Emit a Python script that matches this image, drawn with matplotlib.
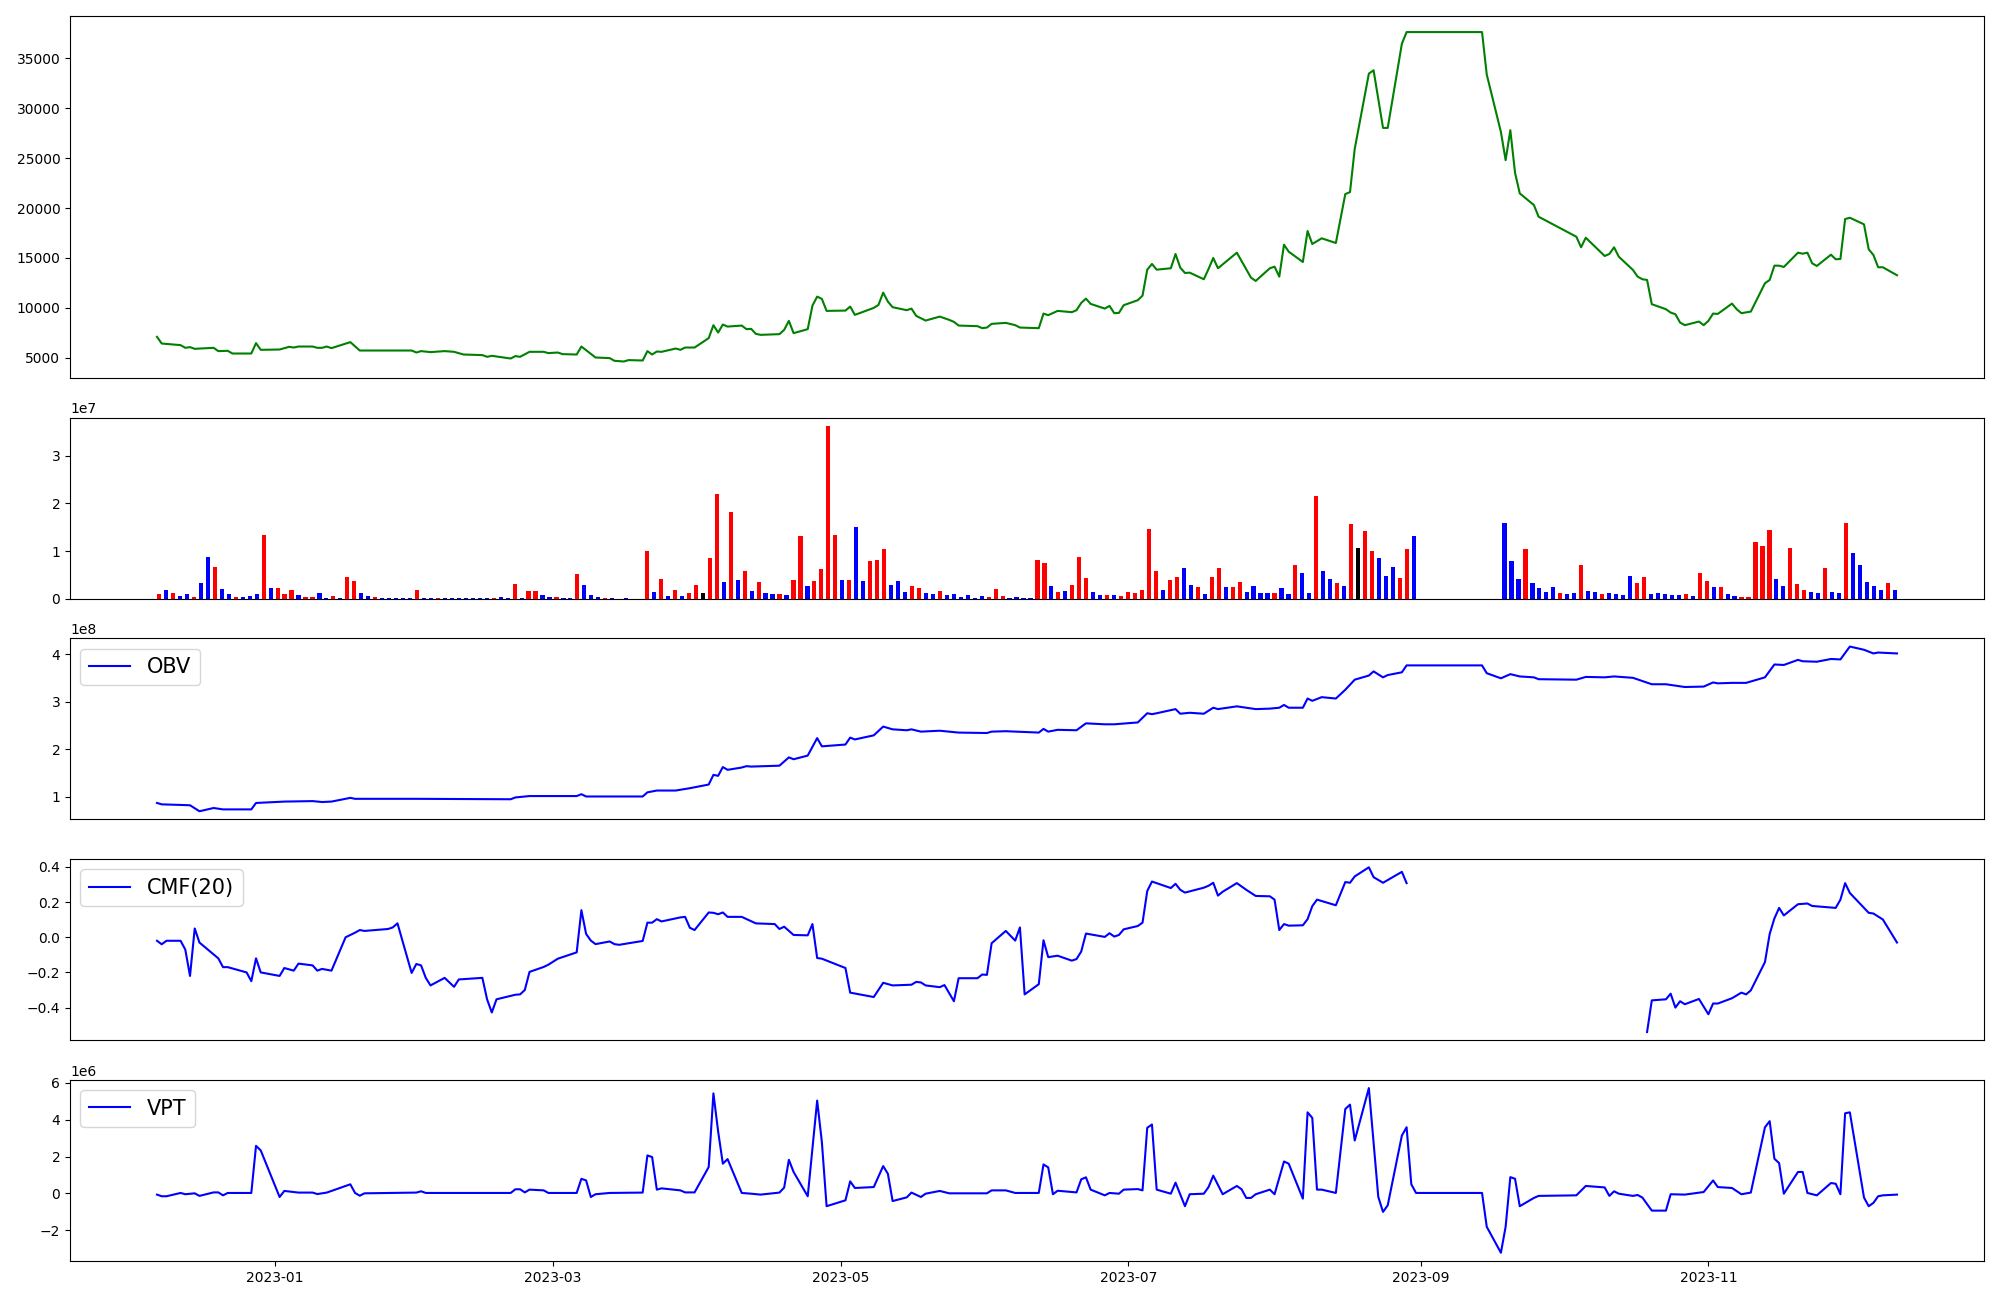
"""
Five-panel stock chart: close price, volume bars, OBV, CMF(20) and VPT.
Values were read off the reference picture.
"""

import numpy as np
import pandas as pd
import matplotlib
matplotlib.use("Agg")
import matplotlib.pyplot as plt

OUTPUT_PATH = "out.png"

# ======== Data ========

# Close price vertices (date, price)
PRICE = [
    ("2022-12-07", 7100), ("2022-12-08", 6430), ("2022-12-12", 6270), ("2022-12-13", 6000),
    ("2022-12-14", 6070), ("2022-12-15", 5900), ("2022-12-19", 6000), ("2022-12-20", 5670),
    ("2022-12-22", 5700), ("2022-12-23", 5430), ("2022-12-27", 5430), ("2022-12-28", 6470),
    ("2022-12-29", 5800), ("2023-01-02", 5830), ("2023-01-04", 6100), ("2023-01-05", 6030),
    ("2023-01-06", 6130), ("2023-01-09", 6130), ("2023-01-10", 6000), ("2023-01-11", 6000),
    ("2023-01-12", 6130), ("2023-01-13", 5970), ("2023-01-17", 6570), ("2023-01-19", 5730),
    ("2023-01-30", 5730), ("2023-01-31", 5530), ("2023-02-01", 5670), ("2023-02-03", 5570),
    ("2023-02-06", 5670), ("2023-02-08", 5600), ("2023-02-10", 5330), ("2023-02-14", 5270),
    ("2023-02-15", 5100), ("2023-02-16", 5200), ("2023-02-17", 5130), ("2023-02-20", 4930),
    ("2023-02-21", 5170), ("2023-02-22", 5100), ("2023-02-24", 5600), ("2023-02-27", 5600),
    ("2023-02-28", 5470), ("2023-03-02", 5530), ("2023-03-03", 5370), ("2023-03-06", 5330),
    ("2023-03-07", 6130), ("2023-03-10", 5030), ("2023-03-13", 4970), ("2023-03-14", 4700),
    ("2023-03-16", 4630), ("2023-03-17", 4770), ("2023-03-20", 4730), ("2023-03-21", 5670),
    ("2023-03-22", 5330), ("2023-03-23", 5630), ("2023-03-24", 5600), ("2023-03-27", 5930),
    ("2023-03-28", 5800), ("2023-03-29", 6030), ("2023-03-31", 6030), ("2023-04-03", 6970),
    ("2023-04-04", 8270), ("2023-04-05", 7530), ("2023-04-06", 8330), ("2023-04-07", 8130),
    ("2023-04-10", 8230), ("2023-04-11", 7870), ("2023-04-12", 7900), ("2023-04-13", 7400),
    ("2023-04-14", 7300), ("2023-04-18", 7370), ("2023-04-19", 7800), ("2023-04-20", 8700),
    ("2023-04-21", 7470), ("2023-04-24", 7870), ("2023-04-25", 10230), ("2023-04-26", 11130),
    ("2023-04-27", 10900), ("2023-04-28", 9700), ("2023-05-02", 9730), ("2023-05-03", 10130),
    ("2023-05-04", 9300), ("2023-05-08", 10000), ("2023-05-09", 10300), ("2023-05-10", 11530),
    ("2023-05-11", 10630), ("2023-05-12", 10070), ("2023-05-15", 9770), ("2023-05-16", 9930),
    ("2023-05-17", 9200), ("2023-05-19", 8730), ("2023-05-22", 9130), ("2023-05-24", 8800),
    ("2023-05-25", 8600), ("2023-05-26", 8230), ("2023-05-30", 8170), ("2023-05-31", 7970),
    ("2023-06-01", 8030), ("2023-06-02", 8400), ("2023-06-05", 8500), ("2023-06-07", 8270),
    ("2023-06-08", 8030), ("2023-06-12", 7970), ("2023-06-13", 9430), ("2023-06-14", 9270),
    ("2023-06-16", 9700), ("2023-06-19", 9570), ("2023-06-20", 9770), ("2023-06-21", 10500),
    ("2023-06-22", 10930), ("2023-06-23", 10400), ("2023-06-26", 9930), ("2023-06-27", 10200),
    ("2023-06-28", 9470), ("2023-06-29", 9500), ("2023-06-30", 10270), ("2023-07-03", 10770),
    ("2023-07-04", 11230), ("2023-07-05", 13830), ("2023-07-06", 14400), ("2023-07-07", 13830),
    ("2023-07-10", 13970), ("2023-07-11", 15400), ("2023-07-12", 14030), ("2023-07-13", 13500),
    ("2023-07-14", 13530), ("2023-07-17", 12870), ("2023-07-18", 13900), ("2023-07-19", 15000),
    ("2023-07-20", 13970), ("2023-07-24", 15530), ("2023-07-27", 13030), ("2023-07-28", 12700),
    ("2023-07-31", 13970), ("2023-08-01", 14130), ("2023-08-02", 13130), ("2023-08-03", 16330),
    ("2023-08-04", 15630), ("2023-08-07", 14600), ("2023-08-08", 17700), ("2023-08-09", 16400),
    ("2023-08-11", 16970), ("2023-08-14", 16500), ("2023-08-16", 21400), ("2023-08-17", 21600),
    ("2023-08-18", 25930), ("2023-08-21", 33470), ("2023-08-22", 33800), ("2023-08-24", 28030),
    ("2023-08-25", 28030), ("2023-08-28", 36470), ("2023-08-29", 37630), ("2023-09-14", 37630),
    ("2023-09-15", 33370), ("2023-09-18", 27630), ("2023-09-19", 24800), ("2023-09-20", 27800),
    ("2023-09-21", 23530), ("2023-09-22", 21470), ("2023-09-25", 20300), ("2023-09-26", 19130),
    ("2023-10-04", 17130), ("2023-10-05", 16070), ("2023-10-06", 17030), ("2023-10-10", 15200),
    ("2023-10-11", 15400), ("2023-10-12", 16070), ("2023-10-13", 15130), ("2023-10-16", 13800),
    ("2023-10-17", 13130), ("2023-10-18", 12870), ("2023-10-19", 12800), ("2023-10-20", 10370),
    ("2023-10-23", 9870), ("2023-10-24", 9530), ("2023-10-25", 9370), ("2023-10-26", 8530),
    ("2023-10-27", 8270), ("2023-10-30", 8630), ("2023-10-31", 8270), ("2023-11-01", 8700),
    ("2023-11-02", 9430), ("2023-11-03", 9400), ("2023-11-06", 10430), ("2023-11-07", 9870),
    ("2023-11-08", 9470), ("2023-11-10", 9630), ("2023-11-13", 12470), ("2023-11-14", 12800),
    ("2023-11-15", 14230), ("2023-11-16", 14230), ("2023-11-17", 14100), ("2023-11-20", 15530),
    ("2023-11-21", 15430), ("2023-11-22", 15530), ("2023-11-23", 14470), ("2023-11-24", 14200),
    ("2023-11-27", 15330), ("2023-11-28", 14870), ("2023-11-29", 14900), ("2023-11-30", 18900),
    ("2023-12-01", 19030), ("2023-12-04", 18370), ("2023-12-05", 15870), ("2023-12-06", 15300),
    ("2023-12-07", 14070), ("2023-12-08", 14070), ("2023-12-11", 13270),
]

# Daily volume in millions of shares, one value per trading day (250 days)
VOLUME_M = [
    1.0, 1.9, 1.3, 0.6, 1.0, 0.4, 3.3, 8.8, 6.7, 2.1,
    1.0, 0.4, 0.4, 0.6, 1.0, 13.4, 2.3, 2.3, 1.0, 1.9,
    0.8, 0.4, 0.4, 1.3, 0.2, 0.6, 0.2, 4.6, 3.8, 1.3,
    0.6, 0.4, 0.2, 0.2, 0.2, 0.2, 0.2, 1.9, 0.2, 0.2,
    0.2, 0.2, 0.2, 0.2, 0.2, 0.2, 0.2, 0.2, 0.2, 0.4,
    0.2, 3.1, 0.2, 1.7, 1.7, 0.8, 0.4, 0.4, 0.2, 0.2,
    5.2, 2.9, 0.8, 0.4, 0.2, 0.2, 0.0, 0.2, 0.0, 0.0,
    10.0, 1.5, 4.2, 0.6, 1.9, 0.6, 1.3, 2.9, 1.3, 8.6,
    22.0, 3.6, 18.2, 4.0, 5.9, 1.7, 3.6, 1.3, 1.0, 1.0,
    0.8, 4.0, 13.2, 2.7, 3.8, 6.3, 36.2, 13.4, 4.0, 4.0,
    15.1, 3.8, 7.9, 8.2, 10.5, 2.9, 3.8, 1.5, 2.7, 2.3,
    1.3, 1.0, 1.7, 0.8, 1.0, 0.4, 0.8, 0.2, 0.6, 0.4,
    2.1, 0.6, 0.2, 0.4, 0.2, 0.2, 8.2, 7.5, 2.7, 1.5,
    1.7, 2.9, 8.8, 4.4, 1.5, 0.8, 0.8, 0.8, 0.6, 1.5,
    1.3, 1.9, 14.6, 5.9, 1.9, 4.0, 4.6, 6.5, 2.9, 2.5,
    1.0, 4.6, 6.5, 2.5, 2.5, 3.6, 1.5, 2.7, 1.3, 1.3,
    1.3, 2.3, 1.0, 7.1, 5.4, 1.3, 21.5, 5.9, 4.2, 3.3,
    2.7, 15.7, 10.7, 14.2, 10.0, 8.6, 4.8, 6.7, 4.4, 10.5,
    13.2, 0.0, 0.0, 0.0, 0.0, 0.0, 0.0, 0.0, 0.0, 0.0,
    0.0, 0.0, 0.0, 15.9, 7.9, 4.2, 10.5, 3.3, 2.3, 1.5,
    2.5, 1.3, 1.0, 1.3, 7.1, 1.7, 1.5, 1.0, 1.3, 1.0,
    0.8, 4.8, 3.3, 4.6, 1.0, 1.3, 1.0, 0.8, 0.8, 1.0,
    0.6, 5.4, 3.8, 2.5, 2.5, 1.0, 0.6, 0.4, 0.4, 11.9,
    11.1, 14.4, 4.2, 2.7, 10.7, 3.1, 1.9, 1.5, 1.3, 6.5,
    1.5, 1.3, 15.9, 9.6, 7.1, 3.6, 2.7, 1.9, 3.3, 1.9,
]

# Candle direction per trading day: U = close above open, D = below, F = unchanged
DIRECTION = (
    "UDUDDUDDUD" "DUDDDUDUUU" "DUUDDUDUUD" "DUDDDDDUDD" "UDDDDDDDUD"
    "DUDUUDDUDD" "UDDDUDDDDD" "UDUDUDUUFU" "UDUDUDUDDU" "DUUDUUUUDU"
    "DDUUUDDDUU" "DDUDDDDDDU" "UUDDDDUUDU" "DUUUDDUDUU" "UUUUDUUDDU"
    "DUUDUUDDDD" "UDDUDDUDDU" "DUFUUDDDUU" "DDDDDDDDDD" "DDDDDDUDDD"
    "DUDDUDDUDD" "DDUUDDDDDU" "DUUDUDDUUU" "UUDDUUUDDU" "DDUDDDDDUD"
)

# On-balance volume vertices (date, x1e8)
OBV_E8 = [
    ("2022-12-07", 0.874), ("2022-12-08", 0.845), ("2022-12-14", 0.826), ("2022-12-16", 0.70),
    ("2022-12-19", 0.768), ("2022-12-21", 0.739), ("2022-12-27", 0.739), ("2022-12-28", 0.874),
    ("2023-01-03", 0.903), ("2023-01-09", 0.913), ("2023-01-11", 0.894), ("2023-01-13", 0.903),
    ("2023-01-17", 0.981), ("2023-01-18", 0.961), ("2023-01-31", 0.961), ("2023-02-20", 0.952),
    ("2023-02-21", 0.99), ("2023-02-24", 1.019), ("2023-03-06", 1.019), ("2023-03-07", 1.058),
    ("2023-03-08", 1.01), ("2023-03-20", 1.01), ("2023-03-21", 1.097), ("2023-03-23", 1.135),
    ("2023-03-27", 1.135), ("2023-03-30", 1.184), ("2023-04-03", 1.261), ("2023-04-04", 1.464),
    ("2023-04-05", 1.444), ("2023-04-06", 1.628), ("2023-04-07", 1.57), ("2023-04-10", 1.618),
    ("2023-04-11", 1.647), ("2023-04-12", 1.638), ("2023-04-18", 1.657), ("2023-04-20", 1.831),
    ("2023-04-21", 1.792), ("2023-04-24", 1.869), ("2023-04-26", 2.236), ("2023-04-27", 2.063),
    ("2023-05-02", 2.101), ("2023-05-03", 2.246), ("2023-05-04", 2.208), ("2023-05-08", 2.294),
    ("2023-05-10", 2.478), ("2023-05-12", 2.42), ("2023-05-15", 2.401), ("2023-05-16", 2.42),
    ("2023-05-18", 2.372), ("2023-05-22", 2.391), ("2023-05-26", 2.352), ("2023-06-01", 2.343),
    ("2023-06-02", 2.372), ("2023-06-05", 2.381), ("2023-06-12", 2.352), ("2023-06-13", 2.43),
    ("2023-06-14", 2.372), ("2023-06-16", 2.41), ("2023-06-20", 2.401), ("2023-06-22", 2.546),
    ("2023-06-26", 2.526), ("2023-06-28", 2.526), ("2023-07-03", 2.565), ("2023-07-05", 2.758),
    ("2023-07-06", 2.739), ("2023-07-07", 2.758), ("2023-07-11", 2.845), ("2023-07-12", 2.748),
    ("2023-07-14", 2.768), ("2023-07-17", 2.748), ("2023-07-19", 2.874), ("2023-07-20", 2.845),
    ("2023-07-24", 2.903), ("2023-07-28", 2.845), ("2023-07-31", 2.855), ("2023-08-02", 2.874),
    ("2023-08-03", 2.932), ("2023-08-04", 2.874), ("2023-08-07", 2.874), ("2023-08-08", 3.067),
    ("2023-08-09", 3.019), ("2023-08-11", 3.096), ("2023-08-14", 3.067), ("2023-08-16", 3.251),
    ("2023-08-18", 3.463), ("2023-08-21", 3.55), ("2023-08-22", 3.637), ("2023-08-24", 3.512),
    ("2023-08-25", 3.56), ("2023-08-28", 3.618), ("2023-08-29", 3.763), ("2023-09-14", 3.763),
    ("2023-09-15", 3.599), ("2023-09-18", 3.492), ("2023-09-20", 3.579), ("2023-09-22", 3.531),
    ("2023-09-25", 3.512), ("2023-09-26", 3.473), ("2023-10-04", 3.463), ("2023-10-06", 3.521),
    ("2023-10-10", 3.512), ("2023-10-12", 3.531), ("2023-10-16", 3.502), ("2023-10-20", 3.367),
    ("2023-10-23", 3.367), ("2023-10-27", 3.309), ("2023-10-31", 3.318), ("2023-11-02", 3.405),
    ("2023-11-03", 3.386), ("2023-11-06", 3.396), ("2023-11-09", 3.396), ("2023-11-13", 3.512),
    ("2023-11-15", 3.782), ("2023-11-17", 3.772), ("2023-11-20", 3.879), ("2023-11-21", 3.85),
    ("2023-11-24", 3.84), ("2023-11-27", 3.898), ("2023-11-29", 3.888), ("2023-12-01", 4.159),
    ("2023-12-04", 4.091), ("2023-12-06", 4.014), ("2023-12-07", 4.033), ("2023-12-11", 4.014),
]

# Chaikin money flow (20) vertices; None = undefined during the trading halt window
CMF_20 = [
    ("2022-12-07", -0.02), ("2022-12-08", -0.04), ("2022-12-09", -0.02), ("2022-12-12", -0.02),
    ("2022-12-13", -0.07), ("2022-12-14", -0.22), ("2022-12-15", 0.05), ("2022-12-16", -0.03),
    ("2022-12-20", -0.12), ("2022-12-21", -0.17), ("2022-12-22", -0.17), ("2022-12-26", -0.20),
    ("2022-12-27", -0.25), ("2022-12-28", -0.12), ("2022-12-29", -0.20), ("2023-01-02", -0.22),
    ("2023-01-03", -0.175), ("2023-01-05", -0.19), ("2023-01-06", -0.15), ("2023-01-09", -0.16),
    ("2023-01-10", -0.19), ("2023-01-11", -0.18), ("2023-01-13", -0.19), ("2023-01-16", 0.0),
    ("2023-01-18", 0.026), ("2023-01-19", 0.041), ("2023-01-20", 0.036), ("2023-01-25", 0.047),
    ("2023-01-26", 0.056), ("2023-01-27", 0.079), ("2023-01-30", -0.203), ("2023-01-31", -0.152),
    ("2023-02-01", -0.16), ("2023-02-02", -0.231), ("2023-02-03", -0.274), ("2023-02-06", -0.231),
    ("2023-02-08", -0.282), ("2023-02-09", -0.24), ("2023-02-14", -0.231), ("2023-02-15", -0.353),
    ("2023-02-16", -0.428), ("2023-02-17", -0.353), ("2023-02-21", -0.327), ("2023-02-22", -0.325),
    ("2023-02-23", -0.30), ("2023-02-24", -0.197), ("2023-02-27", -0.169), ("2023-02-28", -0.156),
    ("2023-03-02", -0.122), ("2023-03-06", -0.086), ("2023-03-07", 0.154), ("2023-03-08", 0.019),
    ("2023-03-09", -0.019), ("2023-03-10", -0.039), ("2023-03-13", -0.024), ("2023-03-14", -0.039),
    ("2023-03-15", -0.043), ("2023-03-17", -0.034), ("2023-03-20", -0.021), ("2023-03-21", 0.083),
    ("2023-03-22", 0.083), ("2023-03-23", 0.103), ("2023-03-24", 0.09), ("2023-03-28", 0.113),
    ("2023-03-29", 0.116), ("2023-03-30", 0.054), ("2023-03-31", 0.041), ("2023-04-03", 0.141),
    ("2023-04-04", 0.139), ("2023-04-05", 0.131), ("2023-04-06", 0.141), ("2023-04-07", 0.116),
    ("2023-04-10", 0.116), ("2023-04-13", 0.079), ("2023-04-17", 0.075), ("2023-04-18", 0.047),
    ("2023-04-19", 0.06), ("2023-04-21", 0.013), ("2023-04-24", 0.011), ("2023-04-25", 0.075),
    ("2023-04-26", -0.118), ("2023-04-27", -0.122), ("2023-05-02", -0.175), ("2023-05-03", -0.315),
    ("2023-05-08", -0.34), ("2023-05-10", -0.259), ("2023-05-12", -0.274), ("2023-05-16", -0.27),
    ("2023-05-17", -0.254), ("2023-05-18", -0.257), ("2023-05-19", -0.274), ("2023-05-22", -0.284),
    ("2023-05-23", -0.272), ("2023-05-25", -0.364), ("2023-05-26", -0.233), ("2023-05-30", -0.233),
    ("2023-05-31", -0.212), ("2023-06-01", -0.214), ("2023-06-02", -0.034), ("2023-06-05", 0.036),
    ("2023-06-07", -0.019), ("2023-06-08", 0.056), ("2023-06-09", -0.325), ("2023-06-12", -0.267),
    ("2023-06-13", -0.017), ("2023-06-14", -0.113), ("2023-06-16", -0.105), ("2023-06-19", -0.133),
    ("2023-06-20", -0.124), ("2023-06-21", -0.081), ("2023-06-22", 0.021), ("2023-06-26", 0.002),
    ("2023-06-27", 0.023), ("2023-06-28", 0.004), ("2023-06-29", 0.013), ("2023-06-30", 0.045),
    ("2023-07-03", 0.064), ("2023-07-04", 0.083), ("2023-07-05", 0.263), ("2023-07-06", 0.317),
    ("2023-07-10", 0.28), ("2023-07-11", 0.304), ("2023-07-12", 0.27), ("2023-07-13", 0.254),
    ("2023-07-17", 0.282), ("2023-07-18", 0.293), ("2023-07-19", 0.31), ("2023-07-20", 0.237),
    ("2023-07-21", 0.259), ("2023-07-24", 0.308), ("2023-07-26", 0.27), ("2023-07-28", 0.235),
    ("2023-07-31", 0.233), ("2023-08-01", 0.214), ("2023-08-02", 0.041), ("2023-08-03", 0.075),
    ("2023-08-04", 0.066), ("2023-08-07", 0.068), ("2023-08-08", 0.103), ("2023-08-09", 0.177),
    ("2023-08-10", 0.214), ("2023-08-14", 0.182), ("2023-08-16", 0.314), ("2023-08-17", 0.31),
    ("2023-08-18", 0.346), ("2023-08-21", 0.398), ("2023-08-22", 0.342), ("2023-08-24", 0.31),
    ("2023-08-28", 0.372), ("2023-08-29", 0.308), ("2023-08-30", None),
    ("2023-10-19", -0.539), ("2023-10-20", -0.359), ("2023-10-23", -0.353), ("2023-10-24", -0.321),
    ("2023-10-25", -0.40), ("2023-10-26", -0.364), ("2023-10-27", -0.381), ("2023-10-30", -0.351),
    ("2023-11-01", -0.438), ("2023-11-02", -0.377), ("2023-11-03", -0.377), ("2023-11-06", -0.347),
    ("2023-11-08", -0.315), ("2023-11-09", -0.325), ("2023-11-10", -0.302), ("2023-11-13", -0.141),
    ("2023-11-14", 0.019), ("2023-11-15", 0.107), ("2023-11-16", 0.167), ("2023-11-17", 0.124),
    ("2023-11-20", 0.188), ("2023-11-22", 0.192), ("2023-11-23", 0.178), ("2023-11-28", 0.167),
    ("2023-11-29", 0.214), ("2023-11-30", 0.308), ("2023-12-01", 0.252), ("2023-12-05", 0.139),
    ("2023-12-06", 0.135), ("2023-12-08", 0.101), ("2023-12-11", -0.03),
]

# Volume price trend vertices (date, x1e6)
VPT_E6 = [
    ("2022-12-07", -0.07), ("2022-12-08", -0.16), ("2022-12-09", -0.16), ("2022-12-12", 0.02),
    ("2022-12-13", -0.05), ("2022-12-15", 0.0), ("2022-12-16", -0.14), ("2022-12-19", 0.05),
    ("2022-12-20", 0.05), ("2022-12-21", -0.11), ("2022-12-22", 0.02), ("2022-12-27", 0.02),
    ("2022-12-28", 2.58), ("2022-12-29", 2.33), ("2023-01-02", -0.2), ("2023-01-03", 0.13),
    ("2023-01-06", 0.04), ("2023-01-09", 0.04), ("2023-01-10", -0.04), ("2023-01-12", 0.04),
    ("2023-01-17", 0.49), ("2023-01-18", 0.02), ("2023-01-19", -0.13), ("2023-01-20", 0.0),
    ("2023-01-31", 0.04), ("2023-02-01", 0.11), ("2023-02-02", 0.02), ("2023-02-20", 0.02),
    ("2023-02-21", 0.22), ("2023-02-22", 0.22), ("2023-02-23", 0.05), ("2023-02-24", 0.2),
    ("2023-02-27", 0.16), ("2023-02-28", 0.02), ("2023-03-06", 0.02), ("2023-03-07", 0.79),
    ("2023-03-08", 0.70), ("2023-03-09", -0.2), ("2023-03-10", -0.05), ("2023-03-13", 0.02),
    ("2023-03-20", 0.04), ("2023-03-21", 2.06), ("2023-03-22", 1.97), ("2023-03-23", 0.2),
    ("2023-03-24", 0.27), ("2023-03-28", 0.16), ("2023-03-29", 0.05), ("2023-03-31", 0.05),
    ("2023-04-03", 1.43), ("2023-04-04", 5.43), ("2023-04-05", 3.36), ("2023-04-06", 1.61),
    ("2023-04-07", 1.86), ("2023-04-10", 0.02), ("2023-04-12", -0.02), ("2023-04-14", -0.07),
    ("2023-04-18", 0.04), ("2023-04-19", 0.31), ("2023-04-20", 1.82), ("2023-04-21", 1.16),
    ("2023-04-24", -0.16), ("2023-04-26", 5.04), ("2023-04-27", 2.78), ("2023-04-28", -0.70),
    ("2023-05-02", -0.38), ("2023-05-03", 0.65), ("2023-05-04", 0.29), ("2023-05-08", 0.34),
    ("2023-05-10", 1.48), ("2023-05-11", 1.06), ("2023-05-12", -0.42), ("2023-05-15", -0.22),
    ("2023-05-16", 0.04), ("2023-05-18", -0.2), ("2023-05-19", -0.02), ("2023-05-22", 0.13),
    ("2023-05-24", 0.0), ("2023-06-01", 0.0), ("2023-06-02", 0.16), ("2023-06-05", 0.16),
    ("2023-06-07", 0.02), ("2023-06-12", 0.02), ("2023-06-13", 1.57), ("2023-06-14", 1.41),
    ("2023-06-15", -0.05), ("2023-06-16", 0.14), ("2023-06-20", 0.05), ("2023-06-21", 0.76),
    ("2023-06-22", 0.87), ("2023-06-23", 0.20), ("2023-06-26", -0.11), ("2023-06-27", 0.02),
    ("2023-06-29", -0.02), ("2023-06-30", 0.2), ("2023-07-03", 0.23), ("2023-07-04", 0.16),
    ("2023-07-05", 3.56), ("2023-07-06", 3.74), ("2023-07-07", 0.2), ("2023-07-10", -0.02),
    ("2023-07-11", 0.58), ("2023-07-13", -0.70), ("2023-07-14", -0.05), ("2023-07-17", -0.02),
    ("2023-07-18", 0.34), ("2023-07-19", 0.96), ("2023-07-21", -0.05), ("2023-07-24", 0.40),
    ("2023-07-25", 0.22), ("2023-07-26", -0.25), ("2023-07-27", -0.25), ("2023-07-28", -0.05),
    ("2023-07-31", 0.2), ("2023-08-01", -0.05), ("2023-08-03", 1.73), ("2023-08-04", 1.61),
    ("2023-08-07", -0.29), ("2023-08-08", 4.40), ("2023-08-09", 4.10), ("2023-08-10", 0.2),
    ("2023-08-11", 0.2), ("2023-08-14", 0.02), ("2023-08-16", 4.58), ("2023-08-17", 4.82),
    ("2023-08-18", 2.87), ("2023-08-21", 5.72), ("2023-08-23", -0.2), ("2023-08-24", -1.01),
    ("2023-08-25", -0.65), ("2023-08-28", 3.14), ("2023-08-29", 3.59), ("2023-08-30", 0.49),
    ("2023-08-31", 0.02), ("2023-09-14", 0.02), ("2023-09-15", -1.82), ("2023-09-18", -3.23),
    ("2023-09-19", -1.82), ("2023-09-20", 0.88), ("2023-09-21", 0.79), ("2023-09-22", -0.70),
    ("2023-09-25", -0.25), ("2023-09-26", -0.14), ("2023-10-04", -0.11), ("2023-10-06", 0.40),
    ("2023-10-10", 0.32), ("2023-10-11", -0.14), ("2023-10-12", 0.11), ("2023-10-13", -0.02),
    ("2023-10-16", -0.14), ("2023-10-17", -0.09), ("2023-10-18", -0.23), ("2023-10-20", -0.94),
    ("2023-10-23", -0.94), ("2023-10-24", -0.05), ("2023-10-27", -0.07), ("2023-10-31", 0.07),
    ("2023-11-02", 0.70), ("2023-11-03", 0.34), ("2023-11-06", 0.29), ("2023-11-08", -0.05),
    ("2023-11-10", 0.04), ("2023-11-13", 3.59), ("2023-11-14", 3.92), ("2023-11-15", 1.88),
    ("2023-11-16", 1.64), ("2023-11-17", -0.02), ("2023-11-20", 1.16), ("2023-11-21", 1.16),
    ("2023-11-22", 0.02), ("2023-11-24", -0.11), ("2023-11-27", 0.56), ("2023-11-28", 0.52),
    ("2023-11-29", -0.05), ("2023-11-30", 4.35), ("2023-12-01", 4.40), ("2023-12-04", -0.23),
    ("2023-12-05", -0.70), ("2023-12-06", -0.52), ("2023-12-07", -0.16), ("2023-12-08", -0.11),
    ("2023-12-11", -0.07),
]

BAR_COLORS = {"U": "red", "D": "blue", "F": "black"}


def _series(pairs, scale=1.0):
    """Split (date, value) pairs into a DatetimeIndex and a float array."""
    dates = pd.to_datetime([d for d, _ in pairs])
    vals = np.array([np.nan if v is None else v for _, v in pairs], dtype=float) * scale
    return dates, vals


def plot_price(ax):
    dates, close = _series(PRICE)
    ax.plot(dates, close, color="green", linewidth=1.5)
    ax.set_xticks([])


def plot_volume(ax):
    vol = np.array(VOLUME_M) * 1e6
    colors = [BAR_COLORS[c] for c in DIRECTION]
    ax.bar(np.arange(len(vol)), vol, width=0.6, color=colors)
    ax.set_xticks([])


def plot_indicator(ax, pairs, scale, label, show_dates=False):
    dates, vals = _series(pairs, scale)
    ax.plot(dates, vals, color="blue", linewidth=1.5, label=label)
    ax.legend(loc="upper left", fontsize=15)
    if not show_dates:
        ax.set_xticks([])


def main():
    fig = plt.figure(figsize=(20, 13), dpi=100)
    gs = fig.add_gridspec(5, 1, height_ratios=[2, 1, 1, 1, 1],
                          left=0.035, right=0.992, top=0.988, bottom=0.030,
                          hspace=0.182)
    axes = [fig.add_subplot(gs[i]) for i in range(5)]

    plot_price(axes[0])
    plot_volume(axes[1])
    plot_indicator(axes[2], OBV_E8, 1e8, "OBV")
    plot_indicator(axes[3], CMF_20, 1.0, "CMF(20)")
    plot_indicator(axes[4], VPT_E6, 1e6, "VPT", show_dates=True)

    fig.savefig(OUTPUT_PATH, dpi=100)


if __name__ == "__main__":
    main()
